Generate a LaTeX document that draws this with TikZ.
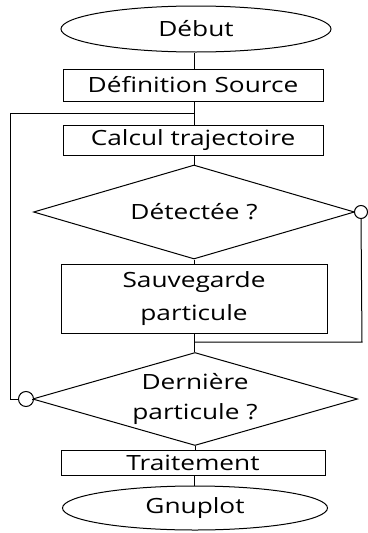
\documentclass[tikz,border=0pt]{standalone}
\usepackage{fontspec}
\setmainfont{Open Sans}[FakeStretch=1.25]
\usetikzlibrary{shapes.geometric}
\begin{document}
\begin{tikzpicture}[x=1pt,y=-1pt,
  every node/.style={font=\fontsize{21}{30}\selectfont, inner sep=0pt},
  line/.style={draw=black, line width=1pt},
  term/.style={ellipse, line},
  proc/.style={rectangle, line},
  decis/.style={diamond, line, aspect=3.4},
  dot/.style={circle, line, fill=white}]
\useasboundingbox (0,0) rectangle (367,533);
\node[term, minimum width=270, minimum height=46] (debut) at (196,29) {Début};
\node[proc, minimum width=260, minimum height=32] (def) at (193,85) {Définition Source};
\node[proc, minimum width=260, minimum height=30] (calc) at (193,140) {Calcul trajectoire};
\node[decis, minimum width=321, minimum height=94] (det) at (194,212) {};
\node (dett) at (det.center) {Détectée ?};
\node[proc, minimum width=266, minimum height=69, align=center, font=\fontsize{21}{33}\selectfont] (sauv) at (194,298.5) {Sauvegarde\\particule};
\node[decis, minimum width=325, minimum height=93] (dern) at (195,399) {};
\node[align=center] (dernt) at (dern.center) {Dernière\\particule ?};
\node[proc, minimum width=264, minimum height=25] (trait) at (193,462.5) {Traitement};
\node[term, minimum width=265, minimum height=44] (gnu) at (195,508) {Gnuplot};
\node[dot, minimum size=13] (dc) at (361,212) {};
\node[dot, minimum size=15] (lc) at (26,399) {};
\coordinate (j1) at (194,113);
\coordinate (j2) at (194,342);
\coordinate (rl) at (362,342);
\coordinate (ll) at (10,399);
\coordinate (lt) at (10,113);
\draw[line] (debut.south -| 194,0) -- (def.north -| 194,0);
\draw[line] (def.south -| 194,0) -- (calc.north -| 194,0);
\draw[line] (calc.south -| 194,0) -- (det.north);
\draw[line] (det.south) -- (sauv.north -| det.south);
\draw[line] (sauv.south -| 194,0) -- (dern.north -| 194,0);
\draw[line] (dern.south) -- (trait.north -| dern.south);
\draw[line] (trait.south -| 194,0) -- (gnu.north -| 194,0);
\draw[line] (det.east) -- (dc.west);
\draw[line] (dc.south) -- (rl) -- (j2);
\draw[line] (dern.west) -- (lc.east);
\draw[line] (lc.west) -- (ll) -- (lt) -- (j1);
\end{tikzpicture}
\end{document}
